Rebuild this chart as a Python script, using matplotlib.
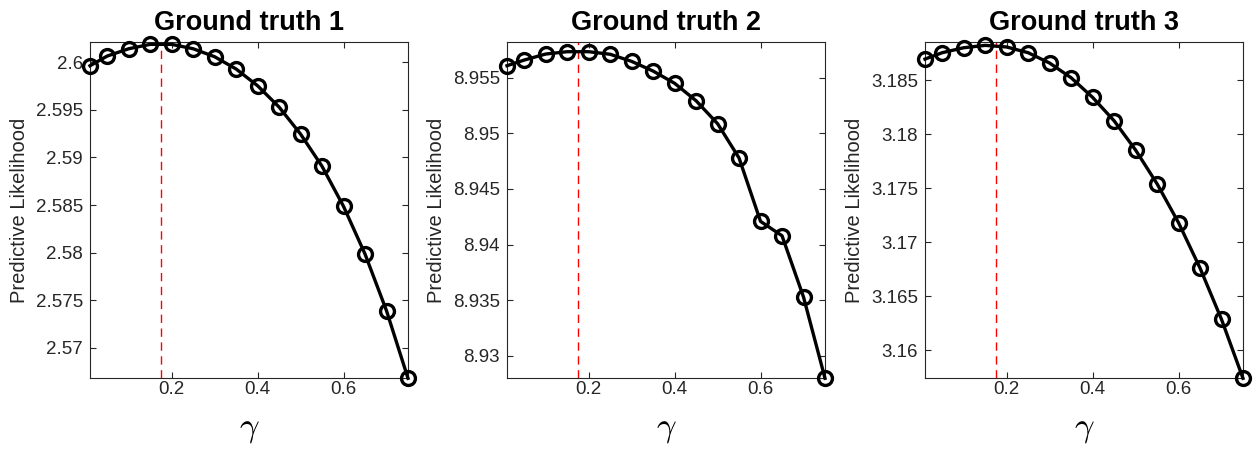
import numpy as np
import matplotlib
matplotlib.use('Agg')
import matplotlib.pyplot as plt

plt.rcParams['font.family'] = ['Liberation Sans', 'DejaVu Sans']
plt.rcParams['mathtext.fontset'] = 'cm'

# gamma values shared by all panels
gamma = [0.01, 0.05, 0.10, 0.15, 0.20, 0.25, 0.30, 0.35, 0.40,
         0.45, 0.50, 0.55, 0.60, 0.65, 0.70, 0.75]

titles = ['Ground truth 1', 'Ground truth 2', 'Ground truth 3']

lik_1 = [2.59964, 2.60066, 2.60143, 2.60189, 2.60189, 2.60143, 2.60059, 2.59930,
         2.59754, 2.59530, 2.59246, 2.58907, 2.58486, 2.57985, 2.57389, 2.56679]
lik_2 = [8.95608, 8.95659, 8.95713, 8.95734, 8.95734, 8.95711, 8.95647, 8.95560,
         8.95450, 8.95293, 8.95087, 8.94778, 8.94208, 8.94079, 8.93528, 8.92797]
lik_3 = [3.18697, 3.18756, 3.18802, 3.18824, 3.18809, 3.18756, 3.18660, 3.18524,
         3.18342, 3.18125, 3.17854, 3.17541, 3.17180, 3.16760, 3.16284, 3.15738]

y_limits = [(2.56679, 2.60217), (8.92797, 8.95824), (3.15738, 3.18858)]
y_ticks = [[2.57, 2.575, 2.58, 2.585, 2.59, 2.595, 2.6],
           [8.93, 8.935, 8.94, 8.945, 8.95, 8.955],
           [3.16, 3.165, 3.17, 3.175, 3.18, 3.185]]
y_ticklabels = [['2.57', '2.575', '2.58', '2.585', '2.59', '2.595', '2.6'],
                ['8.93', '8.935', '8.94', '8.945', '8.95', '8.955'],
                ['3.16', '3.165', '3.17', '3.175', '3.18', '3.185']]

best_gamma = 0.175

series = [lik_1, lik_2, lik_3]
lefts = [90, 507, 925]

fig = plt.figure(figsize=(12.55, 4.53), dpi=100)
W, H = 1255, 453
ax_w, ax_h = 318, 336.6
bottom = 453 - 378.3

tick_col = '#262626'
for i in range(3):
    ax = fig.add_axes([lefts[i] / W, bottom / H, ax_w / W, ax_h / H])
    ax.axvline(best_gamma, color='red', linestyle=(0, (6, 4)), linewidth=1.0)
    ax.plot(gamma, series[i], color='black', linewidth=2.4, marker='o',
            markersize=10, markerfacecolor='none', markeredgewidth=2.4,
            clip_on=False, zorder=3)
    ax.set_xlim(0.01, 0.75)
    ax.set_ylim(*y_limits[i])
    ax.set_xticks([0.2, 0.4, 0.6])
    ax.set_xticklabels(['0.2', '0.4', '0.6'])
    ax.set_yticks(y_ticks[i])
    ax.set_yticklabels(y_ticklabels[i])
    ax.tick_params(direction='in', top=True, right=True, length=4,
                   width=0.8, labelsize=13.5, colors=tick_col)
    ax.tick_params(axis='x', pad=2)
    ax.tick_params(axis='y', pad=5)
    for sp in ax.spines.values():
        sp.set_color(tick_col)
        sp.set_linewidth(0.8)
    ax.set_title(titles[i], fontsize=19.5, fontweight='bold', y=1.034, pad=0)
    ax.set_xlabel(r'$\gamma$', fontsize=25, labelpad=10)
    ax.set_ylabel('Predictive Likelihood', fontsize=14.5, color=tick_col, labelpad=5)

fig.savefig('out.png', dpi=100)
